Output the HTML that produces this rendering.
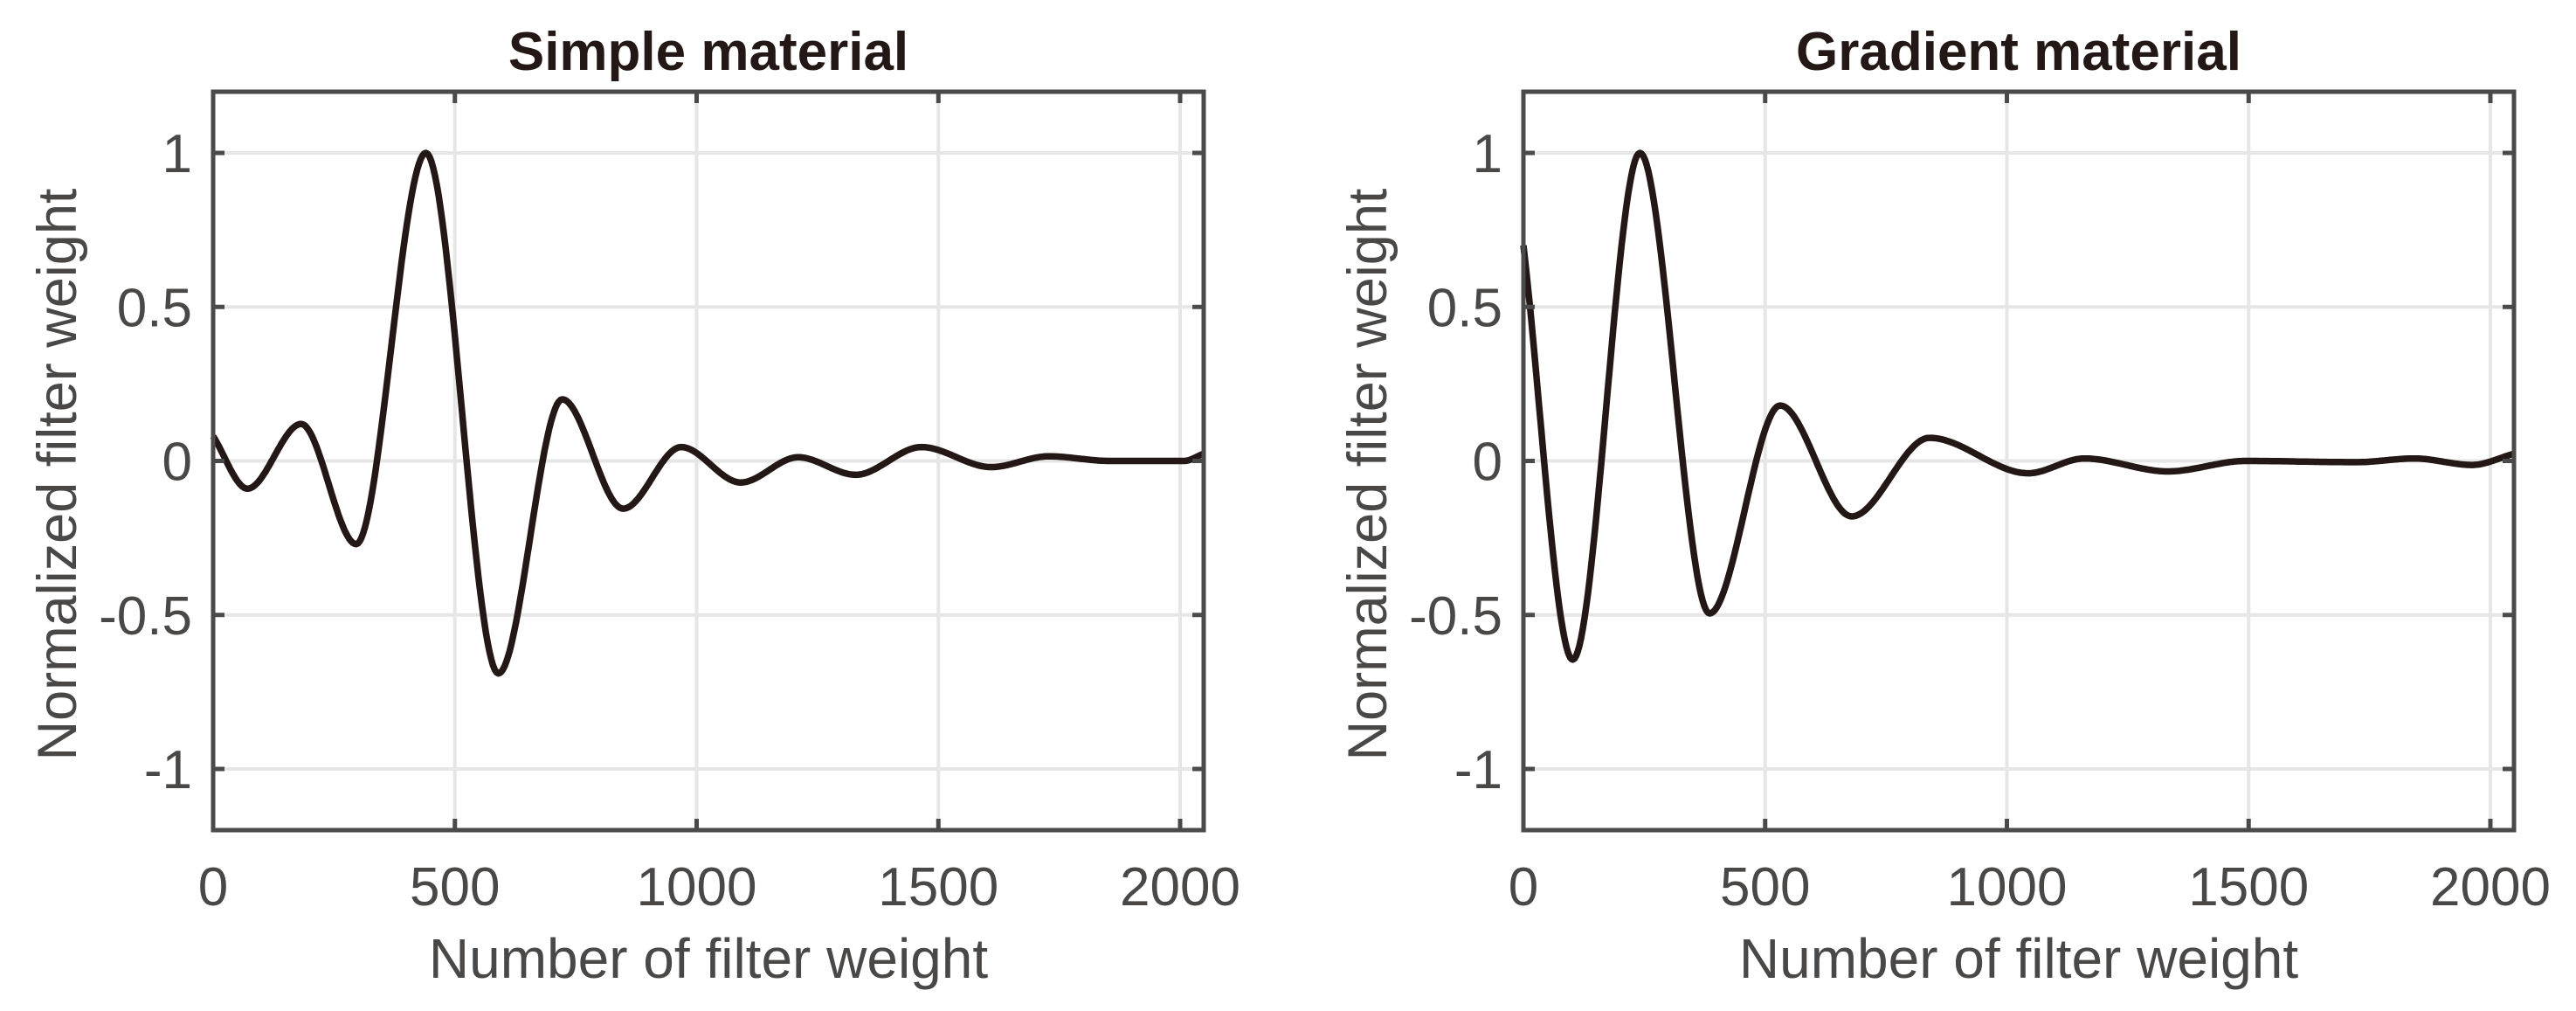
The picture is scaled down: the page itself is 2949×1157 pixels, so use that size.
<!DOCTYPE html>
<html><head><meta charset="utf-8"><style>
html,body{margin:0;padding:0;background:#fff;}
svg{display:block;}
text{font-family:"Liberation Sans",Arial,sans-serif;fill:#4a4847;}
</style></head><body>
<svg id="chart" width="2949" height="1157" xmlns="http://www.w3.org/2000/svg"></svg>
<script>
const xTicks = [0, 500, 1000, 1500, 2000];
const yTicks = [1, 0.5, 0, -0.5, -1];
const yTickLabels = ["1", "0.5", "0", "-0.5", "-1"];
const simpleX = [0, 71, 182, 296, 440, 590, 722, 848, 968, 1091, 1210, 1329, 1465, 1609, 1728, 1855, 2008, 2048];
const simpleY = [0.08, -0.09, 0.12, -0.27, 1.0, -0.69, 0.2, -0.155, 0.045, -0.07, 0.012, -0.045, 0.045, -0.02, 0.015, 0, 0, 0.023];
const gradX = [0, 102, 241, 385, 531, 679, 840, 1044, 1160, 1333, 1494, 1723, 1843, 1962, 2048];
const gradY = [0.70, -0.645, 1.0, -0.495, 0.18, -0.18, 0.075, -0.04, 0.008, -0.034, 0, -0.004, 0.008, -0.013, 0.023];
const titles = ["Simple material", "Gradient material"];

const NS = "http://www.w3.org/2000/svg";
const svg = document.getElementById('chart');
function mk(tag, attrs, parent) {
  const e = document.createElementNS(NS, tag);
  for (const k in attrs) e.setAttribute(k, attrs[k]);
  (parent || svg).appendChild(e);
  return e;
}
function monotone(xs, ys, n) {
  const m = xs.length, d = [], s = [];
  for (let i = 0; i < m - 1; i++) s.push((ys[i+1]-ys[i])/(xs[i+1]-xs[i]));
  for (let i = 0; i < m; i++) {
    if (i === 0) d.push(s[0]);
    else if (i === m-1) d.push(s[m-2]);
    else d.push(s[i-1]*s[i] <= 0 ? 0 : 2/(1/s[i-1]+1/s[i]));
  }
  const pts = [];
  for (let i = 0; i < m - 1; i++) {
    const h = xs[i+1]-xs[i];
    for (let k = 0; k < n; k++) {
      const t = k/n, t2 = t*t, t3 = t2*t;
      const y = (2*t3-3*t2+1)*ys[i] + (t3-2*t2+t)*h*d[i] + (-2*t3+3*t2)*ys[i+1] + (t3-t2)*h*d[i+1];
      pts.push([xs[i]+t*h, y]);
    }
  }
  pts.push([xs[m-1], ys[m-1]]);
  return pts;
}
function panel(off, title, xs, ys, idx) {
  const L = 244 + off, R = 1378 + off, T = 105, B = 950;
  const sx = v => L + v * (1351 - 244) / 2000;
  const sy = v => 527.5 - v * 352.5;
  const g = mk('g', {});
  
  
  xTicks.forEach(v => {
    const ln = mk('line', {x1: sx(v), x2: sx(v), y1: T, y2: B, stroke: '#e6e6e6', 'stroke-width': 4}, g);
    
    
  });
  yTicks.forEach(v => {
    const ln = mk('line', {x1: L, x2: R, y1: sy(v), y2: sy(v), stroke: '#e6e6e6', 'stroke-width': 4}, g);
    
    
  });
  const pts = monotone(xs, ys, 40);
  const p = mk('path', {d: 'M' + pts.map(q => sx(q[0]).toFixed(1) + ',' + sy(q[1]).toFixed(1)).join('L'), fill: 'none', stroke: '#231815', 'stroke-width': 7.5, 'stroke-linejoin': 'round'}, g);
  
  
  const box = mk('rect', {x: L, y: T, width: R - L, height: B - T, fill: 'none', stroke: '#4a4a4a', 'stroke-width': 5}, g);
  
  
  xTicks.forEach(v => {
    mk('line', {x1: sx(v), x2: sx(v), y1: B, y2: B - 13, stroke: '#4a4a4a', 'stroke-width': 5}, g);
    mk('line', {x1: sx(v), x2: sx(v), y1: T, y2: T + 13, stroke: '#4a4a4a', 'stroke-width': 5}, g);
    const t = mk('text', {x: sx(v), y: 1036, 'font-size': 62, 'text-anchor': 'middle'}, g);
    
    
    t.textContent = String(v);
  });
  yTicks.forEach((v, i) => {
    mk('line', {x1: L, x2: L + 13, y1: sy(v), y2: sy(v), stroke: '#4a4a4a', 'stroke-width': 5}, g);
    mk('line', {x1: R, x2: R - 13, y1: sy(v), y2: sy(v), stroke: '#4a4a4a', 'stroke-width': 5}, g);
    const t = mk('text', {x: L - 24, y: sy(v) + 22, 'font-size': 62, 'text-anchor': 'end'}, g);
    
    
    t.textContent = yTickLabels[i];
  });
  const tt = mk('text', {x: (L + R) / 2, y: 80, 'font-size': 62, 'font-weight': 'bold', 'text-anchor': 'middle', style: 'fill:#231815'}, g);
  
  
  tt.textContent = title;
  const xl = mk('text', {x: (L + R) / 2, y: 1119, 'font-size': 64, 'text-anchor': 'middle'}, g);
  
  
  xl.textContent = 'Number of filter weight';
  const yl = mk('text', {x: 0, y: 0, 'font-size': 63, 'text-anchor': 'middle', transform: 'translate(' + (87 + off) + ',543) rotate(-90)'}, g);
  
  
  yl.textContent = 'Normalized filter weight';
}
panel(0, titles[0], simpleX, simpleY, 0);
panel(1500, titles[1], gradX, gradY, 1);
</script>
</body></html>
